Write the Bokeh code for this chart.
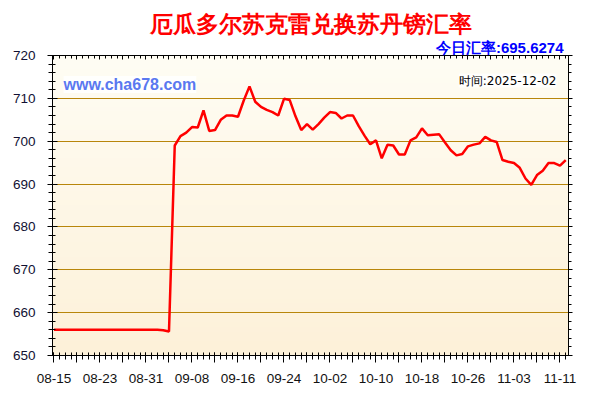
import numpy as np
from bokeh.plotting import figure
from bokeh.models import Range1d, FixedTicker, LinearAxis, Label, Title, CustomJSTickFormatter
from bokeh.embed import file_html
from bokeh.resources import INLINE

# ---- data ----
rates = [
    656.0, 656.0, 656.0, 656.0, 656.0, 656.0, 656.0, 656.0, 656.0, 656.0,
    656.0, 656.0, 656.0, 656.0, 656.0, 656.0, 656.0, 656.0, 656.0, 655.9,
    655.6, 699.0, 701.2, 702.0, 703.3, 703.2, 707.2, 702.4, 702.6, 705.0,
    706.0, 706.0, 705.7, 709.5, 712.8, 709.2, 708.0, 707.3, 706.8, 706.0,
    709.9, 709.6, 705.8, 702.6, 704.0, 702.7, 704.0, 705.5, 706.8, 706.6,
    705.3, 706.0, 706.0, 703.5, 701.3, 699.3, 700.2, 696.0, 699.2, 699.0,
    696.9, 696.9, 700.2, 700.9, 703.0, 701.4, 701.5, 701.6, 699.7, 697.9,
    696.7, 697.0, 698.8, 699.2, 699.5, 701.0, 700.2, 699.8, 695.6, 695.2,
    694.9, 693.8, 691.3, 689.8, 692.1, 693.1, 694.9, 694.9, 694.3, 695.6,
]
days = list(range(len(rates)))  # day offset from 08-15

tick_days = [0, 8, 16, 24, 32, 40, 48, 56, 64, 72, 80, 88]
tick_labels = ["08-15", "08-23", "08-31", "09-08", "09-16", "09-24",
               "10-02", "10-10", "10-18", "10-26", "11-03", "11-11"]
y_ticks = [650, 660, 670, 680, 690, 700, 710, 720]

title_text = "厄瓜多尔苏克雷兑换苏丹镑汇率"
today_text = "今日汇率:695.6274"
site_text = "www.cha678.com"
time_text = "时间:2025-12-02"

# ---- figure ----
x0, x1 = -0.26, 89.48
y0, y1 = 650, 720
p = figure(width=600, height=400, x_range=Range1d(x0, x1), y_range=Range1d(y0, y1),
           output_backend="svg", toolbar_location=None,
           min_border_left=52, min_border_right=32, min_border_top=55, min_border_bottom=45)
p.border_fill_color = "white"
p.background_fill_color = "#FEF7E6"
p.outline_line_color = "black"
p.outline_line_width = 1

# gradient background inside the frame
n = 64
t = np.linspace(0.0, 1.0, n)[:, None]
bottom_c = np.array([253, 241, 217], dtype=float)
top_c = np.array([255, 253, 244], dtype=float)
cols = bottom_c * (1 - t) + top_c * t
img = np.empty((n, 1), dtype=np.uint32)
view = img.view(dtype=np.uint8).reshape((n, 1, 4))
view[:, 0, 0] = cols[:, 0]
view[:, 0, 1] = cols[:, 1]
view[:, 0, 2] = cols[:, 2]
view[:, 0, 3] = 255
p.image_rgba(image=[img], x=x0, y=y0, dw=x1 - x0, dh=y1 - y0, level="image")

# grids
p.xgrid.visible = False
p.ygrid.ticker = FixedTicker(ticks=y_ticks)
p.ygrid.grid_line_color = "#B8860B"
p.ygrid.grid_line_width = 1

# tickers
x_major = list(range(0, 89, 4))
x_minor = list(range(0, 90))
y_minor = list(range(650, 721, 2))
xticker = FixedTicker(ticks=x_major, minor_ticks=x_minor)
yticker = FixedTicker(ticks=y_ticks, minor_ticks=y_minor)

overrides = {d: "" for d in x_major}
for d, lab in zip(tick_days, tick_labels):
    overrides[d] = lab

label_font = "Liberation Sans"

xa = p.xaxis[0]
xa.ticker = xticker
xa.major_label_overrides = overrides
xa.major_label_text_font = label_font
xa.major_label_text_font_size = "13.5px"
xa.major_label_text_color = "#111111"
xa.major_label_standoff = 11
xa.major_tick_in = 3
xa.major_tick_out = 7
xa.minor_tick_in = 3
xa.minor_tick_out = 4
xa.axis_line_color = "black"
xa.major_tick_line_color = "black"
xa.minor_tick_line_color = "black"

ya = p.yaxis[0]
ya.ticker = yticker
ya.major_label_text_font = label_font
ya.major_label_text_font_size = "13.5px"
ya.major_label_text_color = "#111133"
ya.major_label_standoff = 12
ya.major_tick_in = 5
ya.major_tick_out = 5
ya.minor_tick_in = 3
ya.minor_tick_out = 4
ya.axis_line_color = "black"
ya.major_tick_line_color = "black"
ya.minor_tick_line_color = "black"

blank = CustomJSTickFormatter(code="return ''")
top_axis = LinearAxis(ticker=xticker, formatter=blank, major_label_text_font_size="0px",
                      major_tick_in=4, major_tick_out=0, minor_tick_in=3, minor_tick_out=0,
                      axis_line_color="black", major_label_standoff=0)
right_axis = LinearAxis(ticker=yticker, formatter=blank, major_label_text_font_size="0px",
                        major_tick_in=0, major_tick_out=4, minor_tick_in=0, minor_tick_out=3,
                        axis_line_color="black", major_label_standoff=0)
p.add_layout(top_axis, "above")
p.add_layout(right_axis, "right")

# titles (outside the frame)
p.add_layout(Title(text=today_text, align="right", offset=5, standoff=0,
                   text_font="Liberation Sans", text_font_size="15px", text_line_height=0.7,
                   text_font_style="bold", text_color="#0000FF"), "above")
p.add_layout(Title(text=title_text, align="center", offset=-10, standoff=0,
                   text_font="Liberation Sans", text_font_size="22.5px",
                   text_font_style="bold", text_color="#FF0000"), "above")

# data line
p.line(days, rates, line_color="#FF0000", line_width=2.5)

# texts inside the frame (screen units relative to frame bottom-left)
p.add_layout(Label(x=11, y=271, x_units="screen", y_units="screen", text=site_text,
                   text_align="left", text_baseline="middle", text_font="Liberation Sans",
                   text_font_size="16px", text_font_style="bold", text_color="#5A78F0",
                   background_fill_color="white", background_fill_alpha=0.85))
p.add_layout(Label(x=504, y=275, x_units="screen", y_units="screen", text=time_text,
                   text_align="right", text_baseline="middle", text_font="DejaVu Sans",
                   text_font_size="12px", text_color="#000000",
                   background_fill_color="white", background_fill_alpha=0.85))

open("out.html", "w").write(file_html(p, INLINE))
